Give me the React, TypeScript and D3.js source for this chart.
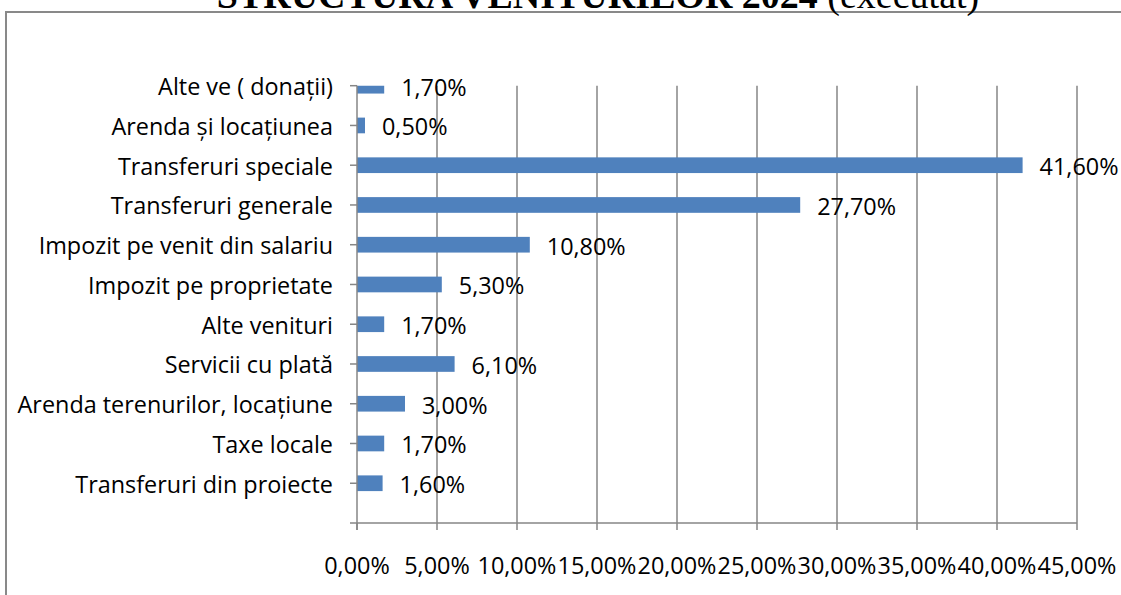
import React from "react";
import * as d3 from "d3";

const categories = [
  "Alte ve ( donații)",
  "Arenda și locațiunea",
  "Transferuri speciale",
  "Transferuri generale",
  "Impozit pe venit din salariu",
  "Impozit pe proprietate",
  "Alte venituri",
  "Servicii cu plată",
  "Arenda terenurilor, locațiune",
  "Taxe locale",
  "Transferuri din proiecte",
];
const values = [1.7, 0.5, 41.6, 27.7, 10.8, 5.3, 1.7, 6.1, 3.0, 1.7, 1.6];
const xTicks = [0, 5, 10, 15, 20, 25, 30, 35, 40, 45];

const W = 1121;
const H = 595;
const plotLeft = 357;
const plotRight = 1077;
const plotTop = 85.7;
const plotBottom = 523;
const band = (plotBottom - plotTop) / categories.length;
const barH = 15.7;
const font = "'Open Sans', sans-serif";
const fs = 23.4;
const grid = "#868686";
const barColor = "#4F81BD";

const fmt = (v: number) => v.toFixed(2).replace(".", ",") + "%";

export default function App() {
  const x = d3.scaleLinear().domain([0, 45]).range([plotLeft, plotRight]);
  const y = d3
    .scalePoint<string>()
    .domain(categories)
    .range([plotTop, plotBottom - band]);

  return (
    <svg
      width={W}
      height={H}
      style={{ position: "absolute", left: 0, top: 0, display: "block", background: "#fff" }}
    >
      <defs>
        <clipPath id="plotClip">
          <rect x={plotLeft} y={plotTop} width={plotRight - plotLeft + 2} height={plotBottom - plotTop} />
        </clipPath>
      </defs>
      <rect x={0} y={0} width={W} height={H} fill="#fff" />
      {/* outer border */}
      <rect x={6} y={12} width={W + 10} height={H + 10} fill="none" stroke="#898989" strokeWidth={2} />
      {/* title (cut off at top, as in the reference) */}
      <text
        x={598}
        y={8}
        textAnchor="middle"
        fontFamily="'Liberation Serif', 'Times New Roman', serif"
        fontSize={38}
        fill="#000"
      >
        <tspan fontWeight="bold">STRUCTURA VENITURILOR 2024 </tspan>
        <tspan fontWeight="normal">(executat)</tspan>
      </text>
      {/* gridlines */}
      {xTicks.slice(1).map((t) => (
        <line key={"g" + t} x1={x(t)} x2={x(t)} y1={plotTop} y2={plotBottom} stroke={grid} strokeWidth={1.5} />
      ))}
      {/* bars */}
      <g clipPath="url(#plotClip)">
        {categories.map((c, i) => (
          <rect
            key={"b" + c}
            x={x(0)}
            y={(y(c) as number) - barH / 2}
            width={x(values[i]) - x(0)}
            height={barH}
            fill={barColor}
          />
        ))}
      </g>
      {/* x axis */}
      <line x1={plotLeft - 7} x2={plotRight} y1={plotBottom} y2={plotBottom} stroke={grid} strokeWidth={1.5} />
      {xTicks.map((t) => (
        <line key={"xt" + t} x1={x(t)} x2={x(t)} y1={plotBottom} y2={plotBottom + 7} stroke={grid} strokeWidth={1.5} />
      ))}
      {xTicks.map((t) => (
        <text
          key={"xl" + t}
          x={x(t)}
          y={565}
          textAnchor="middle"
          dominantBaseline="central"
          fontFamily={font}
          fontSize={fs}
          fill="#000"
        >
          {fmt(t)}
        </text>
      ))}
      {/* y axis */}
      <line x1={plotLeft} x2={plotLeft} y1={plotTop} y2={plotBottom + 7} stroke={grid} strokeWidth={1.5} />
      {categories.map((c) => (
        <line
          key={"yt" + c}
          x1={plotLeft - 7}
          x2={plotLeft}
          y1={y(c) as number}
          y2={y(c) as number}
          stroke={grid}
          strokeWidth={1.5}
        />
      ))}
      {categories.map((c) => (
        <text
          key={"yl" + c}
          x={333}
          y={(y(c) as number) + 0.5}
          textAnchor="end"
          dominantBaseline="central"
          fontFamily={font}
          fontSize={fs}
          fill="#000"
        >
          {c}
        </text>
      ))}
      {/* data labels */}
      {categories.map((c, i) => (
        <text
          key={"dl" + c}
          x={x(values[i]) + 17}
          y={(y(c) as number) + 1}
          dominantBaseline="central"
          fontFamily={font}
          fontSize={fs}
          fill="#000"
        >
          {fmt(values[i])}
        </text>
      ))}
    </svg>
  );
}
